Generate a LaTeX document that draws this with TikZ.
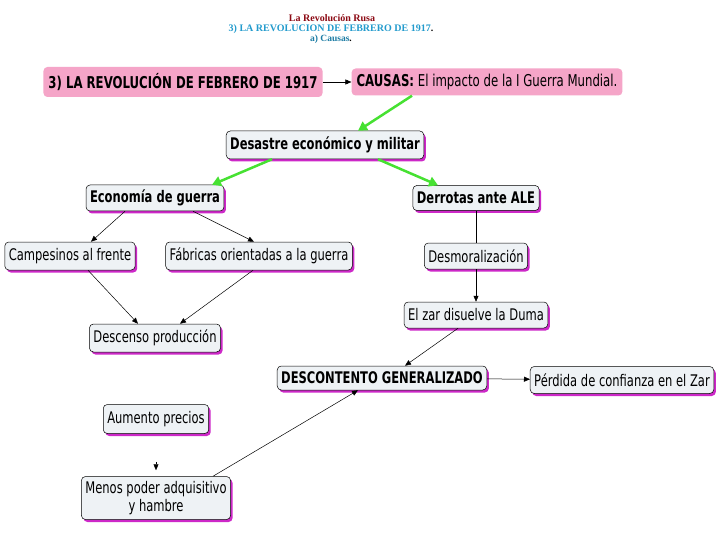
\documentclass[tikz,border=0pt]{standalone}
\usepackage{fontspec}
\usepackage{xcolor}
\usepackage{tikz}
\usetikzlibrary{arrows.meta, positioning, shadows}
\setmainfont{Liberation Serif}
\newfontfamily\mapfont[FakeStretch=0.72]{DejaVu Sans}
\definecolor{cmpink}{RGB}{245,165,200}
\definecolor{cmgray}{RGB}{238,242,245}
\definecolor{cmshadow}{RGB}{205,40,200}
\definecolor{cmgreen}{RGB}{70,225,50}
\definecolor{titlered}{RGB}{140,10,20}
\definecolor{titleblue}{RGB}{35,155,205}
\tikzstyle{topic} = [rectangle, rounded corners=4pt, fill=cmpink, inner xsep=5pt, minimum height=28pt, font=\mapfont\fontsize{16.3}{18}\selectfont]
\tikzstyle{concept} = [rectangle, rounded corners=4pt, draw=black, line width=0.5pt, fill=cmgray, inner xsep=4pt, minimum height=26pt, align=center, general shadow={fill=cmshadow, shadow xshift=2pt, shadow yshift=-2.5pt}, font=\mapfont\fontsize{16}{18}\selectfont]
\tikzstyle{line} = [draw, line width=0.5pt, -{Triangle[length=6pt, width=5pt]}]
\tikzstyle{plain} = [draw, line width=0.5pt]
\tikzstyle{greenline} = [draw=cmgreen, line width=2.5pt, -{Triangle[length=9pt, width=10pt]}]

\begin{document}
\begin{tikzpicture}[x=1pt, y=-1pt]
    \fill[white] (0,0) rectangle (720,540);
    \useasboundingbox (0,0) rectangle (720,540);
    % Title
    \node [font=\bfseries\fontsize{10}{11}\selectfont, text=titlered, inner sep=0pt] (rusa) at (332,18) {La Revolución Rusa};
    \node [font=\bfseries\fontsize{10}{11}\selectfont, text=titleblue, inner sep=0pt] (sub) at (331,29) {3) LA REVOLUCION DE FEBRERO DE 1917\textcolor{black}{.}};
    \node [font=\bfseries\fontsize{9.5}{10}\selectfont, text=titleblue!80!black, inner sep=0pt] (causa) at (331,39) {a) Causas\textcolor{black}{.}};
    % Nodes
    \node [topic, font=\mapfont\bfseries\fontsize{16.3}{18}\selectfont, minimum height=30pt] (rev) at (183,82) {3) LA REVOLUCIÓN DE FEBRERO DE 1917};
    \node [topic, minimum height=27pt] (causas) at (487,82) {\textbf{CAUSAS:} El impacto de la I Guerra Mundial.};
    \node [concept, font=\mapfont\bfseries\fontsize{16}{18}\selectfont, minimum height=28pt] (desastre) at (325,145) {Desastre económico y militar};
    \node [concept, font=\mapfont\bfseries\fontsize{16}{18}\selectfont] (economia) at (155,198) {Economía de guerra};
    \node [concept, font=\mapfont\bfseries\fontsize{16}{18}\selectfont, minimum height=25pt] (derrotas) at (476,198) {Derrotas ante ALE};
    \node [concept, minimum height=28pt] (campesinos) at (70,256) {Campesinos al frente};
    \node [concept, minimum height=28pt] (fabricas) at (259,256) {Fábricas orientadas a la guerra};
    \node [concept] (desmoral) at (476,256) {Desmoralización};
    \node [concept] (zar) at (476,315) {El zar disuelve la Duma};
    \node [concept, minimum height=28pt] (descenso) at (155,338) {Descenso producción};
    \node [concept, font=\mapfont\bfseries\fontsize{16}{18}\selectfont, minimum height=24pt] (descontento) at (382,378) {DESCONTENTO GENERALIZADO};
    \node [concept, minimum height=27pt] (perdida) at (622,380) {Pérdida de confianza en el Zar};
    \node [concept, minimum height=29pt] (aumento) at (156,419) {Aumento precios};
    \node [concept, minimum height=43pt] (menos) at (156,498) {Menos poder adquisitivo\\y hambre};

    % Edges
    \path [line] (rev) -- (causas);
    \path [greenline] ([xshift=-75pt]causas.south) -- ([xshift=33pt]desastre.north);
    \path [greenline] ([xshift=-53pt]desastre.south) -- ([xshift=57pt]economia.north);
    \path [greenline] ([xshift=53pt]desastre.south) -- ([xshift=-38pt]derrotas.north);
    \path [line] ([xshift=-30pt]economia.south) -- ([xshift=21pt]campesinos.north);
    \path [line] ([xshift=38pt]economia.south) -- ([xshift=-5pt]fabricas.north);
    \path [plain] (derrotas) -- (desmoral);
    \path [line] (desmoral) -- (zar);
    \path [line] ([xshift=18pt]campesinos.south) -- ([xshift=-17pt]descenso.north);
    \path [line] ([xshift=-6pt]fabricas.south) -- ([xshift=25pt]descenso.north);
    \path [line] ([xshift=-18pt]zar.south) -- ([xshift=23pt]descontento.north);
    \path [line] (descontento) -- (perdida);
    \path [line, shorten <=28pt, shorten >=6pt] (aumento) -- (menos);
    \path [line] ([xshift=57pt]menos.north) -- ([xshift=-24pt]descontento.south);
\end{tikzpicture}
\end{document}
